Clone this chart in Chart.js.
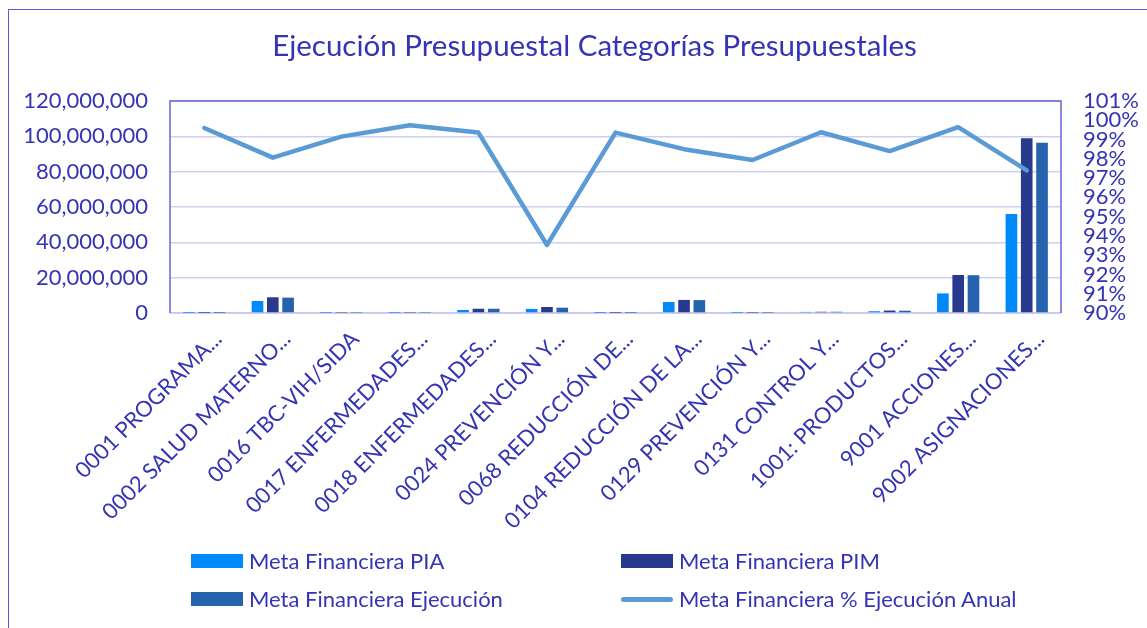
<!DOCTYPE html>
<html>
<head>
<meta charset="utf-8">
<script src="https://cdn.jsdelivr.net/npm/chart.js@4.4.0/dist/chart.umd.min.js"></script>
<style>
  html, body { margin: 0; padding: 0; background: #fff; }
  body { width: 1147px; height: 628px; position: relative; overflow: hidden; font-family: Lato, sans-serif; }
  #marco { position: absolute; left: 8px; top: 9px; width: 1200px; height: 700px;
           border-left: 1.5px solid #5b5bd2; border-top: 1.5px solid #5b5bd2; }
  #grafica { position: absolute; left: 0; top: 0; }
  .item { position: absolute; height: 24px; line-height: 24px; display: flex; align-items: center;
          color: #3434b4; font-size: 22px; white-space: nowrap; }
  .muestra { display: inline-block; width: 52px; margin-right: 6px; }
</style>
</head>
<body>
<div id="marco"></div>
<canvas id="grafica" width="1147" height="628"></canvas>
<div id="leyenda"></div>
<script>
const categorias = [
    '0001 PROGRAMA...', '0002 SALUD MATERNO...', '0016 TBC-VIH/SIDA', '0017 ENFERMEDADES...',
    '0018 ENFERMEDADES...', '0024 PREVENCIÓN Y...', '0068 REDUCCIÓN DE...', '0104 REDUCCIÓN DE LA...',
    '0129 PREVENCIÓN Y...', '0131 CONTROL Y...', '1001: PRODUCTOS...', '9001 ACCIONES...',
    '9002 ASIGNACIONES...'
];
const metaPIA       = [50000, 6800000, 100000, 100000, 1700000, 2300000, 50000, 6200000, 100000, 600000, 1000000, 11100000, 56000000];
const metaPIM       = [50000, 8900000, 200000, 200000, 2400000, 3400000, 80000, 7400000, 150000, 700000, 1400000, 21500000, 98900000];
const metaEjecucion = [50000, 8700000, 200000, 200000, 2400000, 3000000, 80000, 7300000, 150000, 700000, 1300000, 21400000, 96400000];
const porcEjecucion = [99.6, 98.06, 99.15, 99.74, 99.36, 93.53, 99.36, 98.5, 97.94, 99.38, 98.4, 99.64, 97.4];

const ticksMonto = [0, 20000000, 40000000, 60000000, 80000000, 100000000, 120000000];
const ticksPorc  = [90, 91, 92, 93, 94, 95, 96, 97, 98, 99, 100, 101];

const colorTexto = '#3434b4';
Chart.defaults.font.family = 'Lato';
Chart.defaults.color = colorTexto;

// marco del area de trazado (izq, arriba, der)
const bordeArea = {
    id: 'bordeArea',
    afterLayout(chart) {
        // el titulo va centrado un poco a la derecha, como en el original
        if (chart.titleBlock) chart.titleBlock.left = 42;
    },
    beforeDatasetsDraw(chart) {
        const { ctx, chartArea: a } = chart;
        ctx.save();
        ctx.strokeStyle = '#c4c4ee';
        ctx.lineWidth = 1.5;
        ctx.beginPath();
        ctx.moveTo(a.left, a.bottom);
        ctx.lineTo(a.right, a.bottom);
        ctx.stroke();
        ctx.strokeStyle = '#6464da';
        ctx.beginPath();
        ctx.moveTo(a.left, a.bottom);
        ctx.lineTo(a.left, a.top);
        ctx.lineTo(a.right, a.top);
        ctx.lineTo(a.right, a.bottom);
        ctx.stroke();
        ctx.restore();
    }
};

const fuenteEje = { size: 22 };

const grafica = new Chart(document.getElementById('grafica').getContext('2d'), {
    type: 'bar',
    data: {
        labels: categorias,
        datasets: [
            { label: 'Meta Financiera PIA', data: metaPIA, backgroundColor: '#0089f8', yAxisID: 'y', order: 1,
              categoryPercentage: 0.67, barPercentage: 0.76 },
            { label: 'Meta Financiera PIM', data: metaPIM, backgroundColor: '#2a3990', yAxisID: 'y', order: 1,
              categoryPercentage: 0.67, barPercentage: 0.76 },
            { label: 'Meta Financiera Ejecución', data: metaEjecucion, backgroundColor: '#2563ae', yAxisID: 'y', order: 1,
              categoryPercentage: 0.67, barPercentage: 0.76 },
            { type: 'line', label: 'Meta Financiera % Ejecución Anual', data: porcEjecucion, yAxisID: 'y1', order: 0,
              borderColor: '#5b9bd5', backgroundColor: '#5b9bd5', borderWidth: 4.5, pointRadius: 0,
              borderCapStyle: 'round', borderJoinStyle: 'round', tension: 0 }
        ]
    },
    options: {
        responsive: false,
        animation: false,
        layout: { padding: { left: 8, right: 0, top: 0, bottom: 0 } },
        plugins: {
            legend: { display: false },
            tooltip: { enabled: false },
            title: {
                display: true,
                text: 'Ejecución Presupuestal Categorías Presupuestales',
                color: colorTexto,
                font: { size: 29.5, weight: 'normal' },
                padding: { top: 29, bottom: 36.6 }
            }
        },
        scales: {
            x: {
                grid: { display: false, drawTicks: false },
                border: { display: false },
                ticks: { color: colorTexto, font: fuenteEje, maxRotation: 45, minRotation: 45, autoSkip: false,
                         padding: 13, labelOffset: 14 },
                afterFit: s => { s.height = 315; }
            },
            y: {
                position: 'left',
                min: 0,
                max: 120000000,
                afterBuildTicks: a => { a.ticks = ticksMonto.map(v => ({ value: v })); },
                ticks: { color: colorTexto, font: fuenteEje, padding: 22, autoSkip: false,
                         callback: v => v.toLocaleString('en-US') },
                grid: { color: '#cfcff2', lineWidth: 1.5, drawTicks: false },
                border: { display: false },
                afterFit: s => { s.width = 162; }
            },
            y1: {
                position: 'right',
                min: 90,
                max: 101,
                afterBuildTicks: a => { a.ticks = ticksPorc.map(v => ({ value: v })); },
                ticks: { color: colorTexto, font: fuenteEje, padding: 22, autoSkip: false,
                         callback: v => v + '%' },
                grid: { display: false, drawTicks: false },
                border: { display: false },
                afterFit: s => { s.width = 86; }
            }
        }
    },
    plugins: [bordeArea]
});

// leyenda en dos columnas
const posLeyenda = [[191, 561], [621, 561], [191, 599], [621, 599]];
const leyenda = document.getElementById('leyenda');
grafica.data.datasets.forEach((ds, i) => {
    const item = document.createElement('div');
    item.className = 'item';
    item.style.left = posLeyenda[i][0] + 'px';
    item.style.top = (posLeyenda[i][1] - 12) + 'px';
    const muestra = document.createElement('span');
    muestra.className = 'muestra';
    if (ds.type === 'line') {
        muestra.style.height = '5px';
        muestra.style.borderRadius = '3px';
        muestra.style.background = ds.borderColor;
    } else {
        muestra.style.height = '14px';
        muestra.style.background = ds.backgroundColor;
    }
    item.appendChild(muestra);
    item.appendChild(document.createTextNode(ds.label));
    leyenda.appendChild(item);
});
</script>
</body>
</html>
